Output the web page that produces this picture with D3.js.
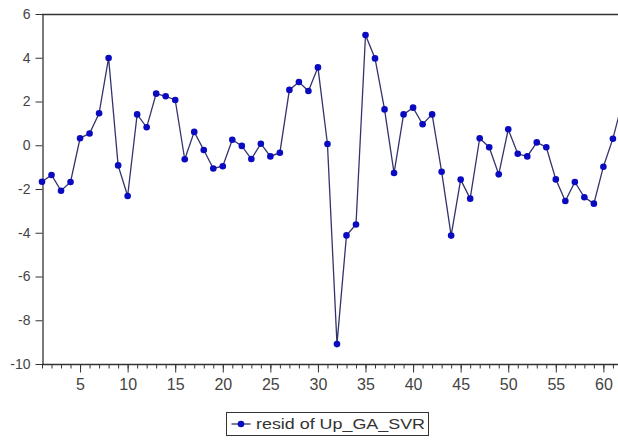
<!DOCTYPE html>
<html>
<head>
<meta charset="utf-8">
<script src="https://cdn.jsdelivr.net/npm/d3@7"></script>
<style>
  html, body { margin: 0; padding: 0; background: #fff; }
  svg { display: block; font-family: "Liberation Sans", Arial, sans-serif; }
</style>
</head>
<body>
<svg id="chart" width="618" height="440"></svg>
<script>
// Residual series, observations 1..62
const obs = d3.range(1, 63);
const resid = [
  -1.67, -1.36, -2.08, -1.68, 0.32, 0.54, 1.46, 3.99, -0.92, -2.32,
   1.41, 0.82, 2.36, 2.24, 2.07, -0.64, 0.61, -0.22, -1.06, -0.96,
   0.25, -0.03, -0.63, 0.07, -0.51, -0.34, 2.53, 2.89, 2.48, 3.56,
   0.06, -9.09, -4.12, -3.62, 5.04, 3.97, 1.64, -1.27, 1.41, 1.72,
   0.96, 1.41, -1.21, -4.13, -1.57, -2.44, 0.32, -0.09, -1.33, 0.73,
  -0.39, -0.51, 0.13, -0.09, -1.56, -2.55, -1.68, -2.38, -2.67, -0.98,
   0.30, 1.98
];
const yTicks = [-10, -8, -6, -4, -2, 0, 2, 4, 6];
const xMajorTicks = [5, 10, 15, 20, 25, 30, 35, 40, 45, 50, 55, 60];
const seriesName = "resid of Up_GA_SVR";

const svg = d3.select("#chart");
const plotLeft = 42, plotTop = 14, plotBottom = 364;
const step = 9.515;

const x = d3.scaleLinear().domain([1, 62]).range([plotLeft, plotLeft + 61 * step]);
const y = d3.scaleLinear().domain([-10, 6]).range([plotBottom, plotTop]);

const axisColor = "#333";
const textColor = "#444";

// frame: top border
svg.append("line")
  .attr("x1", plotLeft).attr("x2", 618)
  .attr("y1", plotTop + 0.5).attr("y2", plotTop + 0.5)
  .attr("stroke", axisColor).attr("stroke-width", 1.3);

// left axis (plain hyphen for negatives)
const yAxis = svg.append("g")
  .attr("transform", `translate(${plotLeft + 0.5},0)`)
  .call(d3.axisLeft(y).tickValues(yTicks).tickFormat(d => String(d))
    .tickSize(7).tickPadding(5).tickSizeOuter(0));
yAxis.select(".domain").attr("stroke", axisColor).attr("stroke-width", 1.3);
yAxis.selectAll(".tick line").attr("stroke", axisColor);
yAxis.selectAll(".tick text")
  .attr("fill", textColor).attr("font-size", 14)
  .attr("font-family", "Liberation Sans, Arial, sans-serif");

// bottom axis: minor ticks every observation
const xMinor = svg.append("g")
  .attr("transform", `translate(0,${plotBottom + 0.5})`)
  .call(d3.axisBottom(x).tickValues(obs).tickSize(4).tickFormat("").tickSizeOuter(0));
xMinor.select(".domain").attr("stroke", axisColor).attr("stroke-width", 1.3)
  .attr("d", `M${plotLeft},0H618`);
xMinor.selectAll(".tick line").attr("stroke", axisColor);

// bottom axis: major ticks with labels
const xMajor = svg.append("g")
  .attr("transform", `translate(0,${plotBottom + 0.5})`)
  .call(d3.axisBottom(x).tickValues(xMajorTicks).tickFormat(d => String(d))
    .tickSize(8).tickPadding(6).tickSizeOuter(0));
xMajor.select(".domain").remove();
xMajor.selectAll(".tick line").attr("stroke", axisColor);
xMajor.selectAll(".tick text")
  .attr("fill", textColor).attr("font-size", 16)
  .attr("font-family", "Liberation Sans, Arial, sans-serif");

// series line and markers
const pts = obs.map((o, i) => [o, resid[i]]);
svg.append("path")
  .datum(pts)
  .attr("fill", "none")
  .attr("stroke", "#33336e")
  .attr("stroke-width", 1.3)
  .attr("d", d3.line().x(d => x(d[0])).y(d => y(d[1])));

svg.append("g").selectAll("circle")
  .data(pts)
  .join("circle")
  .attr("cx", d => x(d[0]))
  .attr("cy", d => y(d[1]))
  .attr("r", 3.3)
  .attr("fill", "#0a0ac0");

// legend
const lg = svg.append("g").attr("transform", "translate(226.5,412.5)");
lg.append("rect")
  .attr("width", 202).attr("height", 23)
  .attr("fill", "#fff").attr("stroke", axisColor).attr("stroke-width", 1);
lg.append("line")
  .attr("x1", 5).attr("x2", 24).attr("y1", 11.5).attr("y2", 11.5)
  .attr("stroke", "#33336e").attr("stroke-width", 1.3);
lg.append("circle").attr("cx", 14.5).attr("cy", 11.5).attr("r", 3.3).attr("fill", "#0a0ac0");
lg.append("text")
  .attr("x", 29.5).attr("y", 16.5)
  .attr("font-size", 15)
  .attr("fill", "#333")
  .attr("textLength", 169).attr("lengthAdjust", "spacingAndGlyphs")
  .text(seriesName);
</script>
</body>
</html>
